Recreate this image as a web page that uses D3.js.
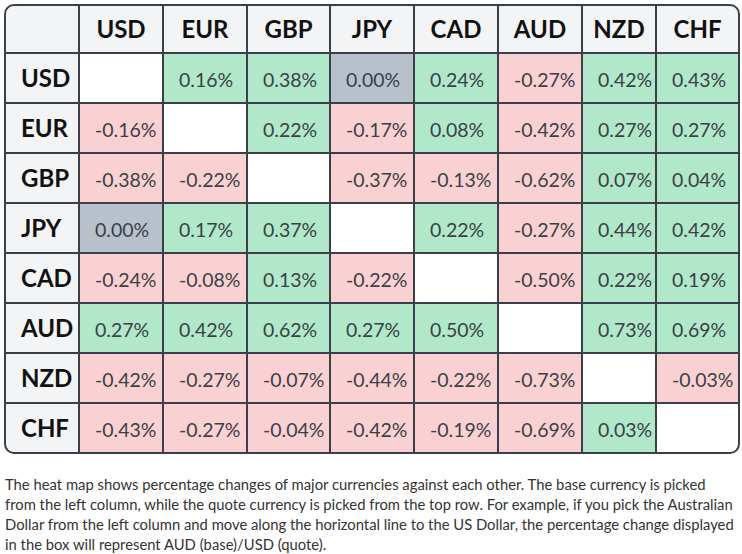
<!DOCTYPE html>
<html lang="en">
<head>
    <meta charset="UTF-8">
    <title>Currency Heat Map</title>
    <style>
        body {
            margin: 0;
            padding: 0;
            background: #ffffff;
            font-family: Lato, "Open Sans", sans-serif;
        }
        #heatmap {
            display: block;
        }
    </style>
</head>
<body>
<svg id="heatmap"></svg>

<script src="https://d3js.org/d3.v7.min.js"></script>
<script>
    // currencies (same order for base rows and quote columns)
    var currencies = ["USD", "EUR", "GBP", "JPY", "CAD", "AUD", "NZD", "CHF"];

    // percentage change, one array per base currency (null = same currency)
    var usdRow = [null, 0.16, 0.38, 0.00, 0.24, -0.27, 0.42, 0.43];
    var eurRow = [-0.16, null, 0.22, -0.17, 0.08, -0.42, 0.27, 0.27];
    var gbpRow = [-0.38, -0.22, null, -0.37, -0.13, -0.62, 0.07, 0.04];
    var jpyRow = [0.00, 0.17, 0.37, null, 0.22, -0.27, 0.44, 0.42];
    var cadRow = [-0.24, -0.08, 0.13, -0.22, null, -0.50, 0.22, 0.19];
    var audRow = [0.27, 0.42, 0.62, 0.27, 0.50, null, 0.73, 0.69];
    var nzdRow = [-0.42, -0.27, -0.07, -0.44, -0.22, -0.73, null, -0.03];
    var chfRow = [-0.43, -0.27, -0.04, -0.42, -0.19, -0.69, 0.03, null];

    var rows = [usdRow, eurRow, gbpRow, jpyRow, cadRow, audRow, nzdRow, chfRow];

    var footnote = [
        "The heat map shows percentage changes of major currencies against each other. The base currency is picked",
        "from the left column, while the quote currency is picked from the top row. For example, if you pick the Australian",
        "Dollar from the left column and move along the horizontal line to the US Dollar, the percentage change displayed",
        "in the box will represent AUD (base)/USD (quote)."
    ];

    var width = 742, height = 554;
    var tLeft = 5, tTop = 5, tRight = 739;
    var labelColW = 74, headerH = 48, rowH = 50;
    // column widths as laid out by the original table
    var colWidths = [84, 84, 83, 84, 84, 84, 74, 83];
    var border = "#3a3f4a";

    var fmt = d3.formatLocale({
        decimal: ".", thousands: ",", grouping: [3], currency: ["", ""], minus: "-"
    }).format(".2f");

    var svg = d3.select("#heatmap")
        .attr("width", width)
        .attr("height", height);

    var gridLeft = tLeft + labelColW;
    var colStarts = colWidths.map(function (w, i) {
        return gridLeft + d3.sum(colWidths.slice(0, i));
    });
    var x = d3.scaleOrdinal().domain(currencies).range(colStarts);
    var colW = d3.scaleOrdinal().domain(currencies).range(colWidths);

    var y = d3.scaleBand()
        .domain(currencies)
        .range([tTop + headerH, tTop + headerH + rowH * currencies.length]);

    var tableBottom = tTop + headerH + rowH * currencies.length;

    var color = function (v) {
        if (v === null) return "#ffffff";
        if (v > 0) return "#b1e8c9";
        if (v < 0) return "#fad1d2";
        return "#b8c0cb";
    };

    svg.append("clipPath").attr("id", "round")
        .append("rect")
        .attr("x", tLeft).attr("y", tTop)
        .attr("width", tRight - tLeft).attr("height", tableBottom - tTop)
        .attr("rx", 9);

    var g = svg.append("g").attr("clip-path", "url(#round)");

    // header backgrounds
    g.append("rect")
        .attr("x", tLeft).attr("y", tTop)
        .attr("width", tRight - tLeft).attr("height", headerH)
        .attr("fill", "#f3f4f6");
    g.append("rect")
        .attr("x", tLeft).attr("y", tTop)
        .attr("width", labelColW).attr("height", tableBottom - tTop)
        .attr("fill", "#f3f4f6");

    var cells = [];
    rows.forEach(function (r, i) {
        r.forEach(function (v, j) {
            cells.push({ base: currencies[i], quote: currencies[j], value: v });
        });
    });

    g.selectAll("rect.cell")
        .data(cells)
        .enter().append("rect")
        .attr("class", "cell")
        .attr("x", d => x(d.quote))
        .attr("y", d => y(d.base))
        .attr("width", d => colW(d.quote))
        .attr("height", y.bandwidth())
        .attr("fill", d => color(d.value));

    g.selectAll("text.val")
        .data(cells.filter(d => d.value !== null))
        .enter().append("text")
        .attr("class", "val")
        .attr("x", d => x(d.quote) + 16)
        .attr("y", d => y(d.base) + y.bandwidth() / 2 + 9)
        .attr("font-size", 19.5)
        .attr("fill", "#3a3f48")
        .text(d => fmt(d.value) + "%");

    // grid lines
    g.selectAll("line.v")
        .data(colStarts)
        .enter().append("line")
        .attr("class", "v")
        .attr("x1", d => d).attr("x2", d => d)
        .attr("y1", tTop).attr("y2", tableBottom)
        .attr("stroke", border).attr("stroke-width", 2);

    var hLines = currencies.map(c => y(c));
    g.selectAll("line.h")
        .data(hLines)
        .enter().append("line")
        .attr("class", "h")
        .attr("x1", tLeft).attr("x2", tRight)
        .attr("y1", d => d).attr("y2", d => d)
        .attr("stroke", border).attr("stroke-width", 2);

    // column headers
    svg.selectAll("text.col")
        .data(currencies)
        .enter().append("text")
        .attr("class", "col")
        .attr("x", d => x(d) + colW(d) / 2)
        .attr("y", tTop + headerH / 2)
        .attr("dy", "0.36em")
        .attr("text-anchor", "middle")
        .attr("font-size", 24)
        .attr("font-weight", "bold")
        .attr("fill", "#111111")
        .text(d => d);

    // row headers
    svg.selectAll("text.row")
        .data(currencies)
        .enter().append("text")
        .attr("class", "row")
        .attr("x", tLeft + 16)
        .attr("y", d => y(d) + y.bandwidth() / 2)
        .attr("dy", "0.36em")
        .attr("font-size", 24)
        .attr("font-weight", "bold")
        .attr("fill", "#111111")
        .text(d => d);

    // outer rounded border
    svg.append("rect")
        .attr("x", tLeft).attr("y", tTop)
        .attr("width", tRight - tLeft).attr("height", tableBottom - tTop)
        .attr("rx", 9)
        .attr("fill", "none")
        .attr("stroke", border).attr("stroke-width", 2);

    svg.selectAll("text.note")
        .data(footnote)
        .enter().append("text")
        .attr("class", "note")
        .attr("x", tLeft)
        .attr("y", (d, i) => 490 + i * 20)
        .attr("font-size", 14.8)
        .attr("fill", "#333333")
        .text(d => d);
</script>
</body>
</html>
